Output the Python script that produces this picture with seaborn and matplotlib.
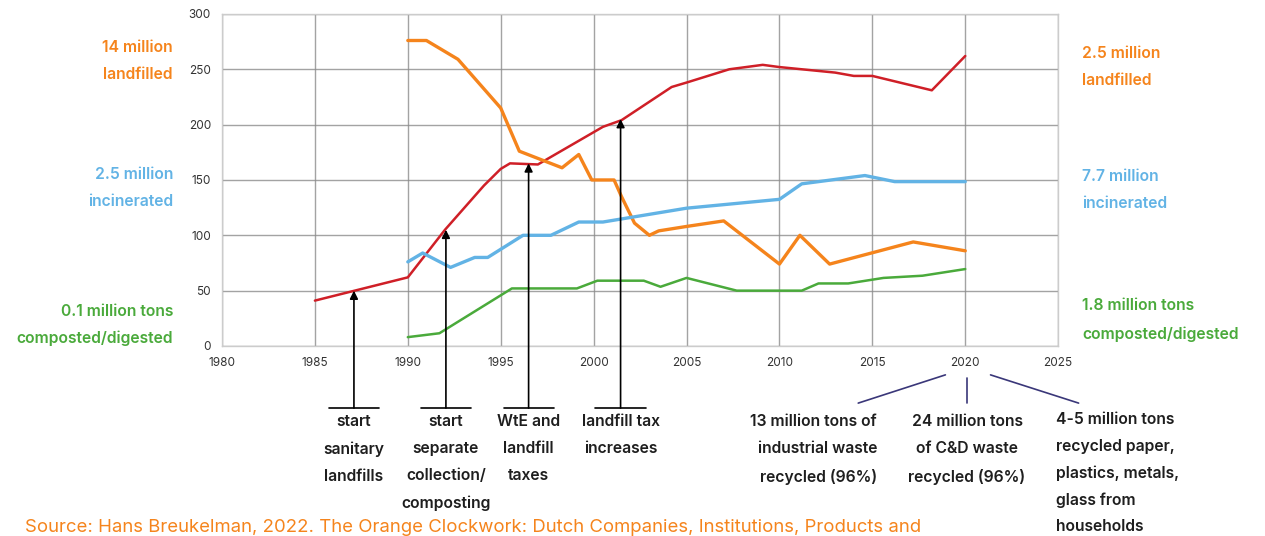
import matplotlib
matplotlib.use("Agg")
import matplotlib.pyplot as plt
import seaborn as sns

# series
red_years = [1985, 1990, 1992, 1994.1, 1995, 1995.5, 1997, 2000.5, 2001.5, 2004.2,
             2005, 2007.3, 2009.1, 2010, 2013, 2014, 2015, 2018.2, 2020]
red_vals = [41, 62, 105, 145, 160, 165, 164, 198, 204, 234,
            238, 250, 254, 252, 247, 244, 244, 231, 262]

orange_years = [1990, 1991, 1992.7, 1995, 1996, 1998.3, 1999.2, 1999.9, 2001.1, 2001.5,
                2002.2, 2003, 2003.5, 2005, 2007, 2010, 2011.1, 2012.7, 2017.2, 2020]
orange_vals = [276, 276, 259, 215, 176, 161, 173, 150, 150, 135,
               111, 100, 104, 108, 113, 74, 100, 74, 94, 86]

blue_years = [1990, 1990.8, 1992.3, 1993.6, 1994.3, 1996.2, 1997.7, 1999.2, 2000.5,
              2005, 2010, 2011.2, 2014.6, 2016.2, 2020]
blue_vals = [76, 84, 71, 80, 80, 100, 100, 112, 112,
             124.5, 132.5, 146.5, 154, 148.5, 148.5]

green_years = [1990, 1991.7, 1995.6, 1999.1, 2000.2, 2002.7, 2003.6, 2005, 2007.7,
               2011.2, 2012.1, 2013.7, 2015.6, 2017.7, 2020]
green_vals = [8, 11.5, 52, 52, 59, 59, 53.5, 61.5, 50,
              50, 56.5, 56.5, 61.5, 63.5, 69.5]

# policy events: year and the value the arrow points at
event_years = [1987.1, 1992.05, 1996.5, 2001.45]
event_vals = [50, 105, 165, 205]
event_labels = ["start\nsanitary\nlandfills",
                "start\nseparate\ncollection/\ncomposting",
                "WtE and\nlandfill\ntaxes",
                "landfill tax\nincreases"]

x_ticks = [1980, 1985, 1990, 1995, 2000, 2005, 2010, 2015, 2020, 2025]
y_ticks = [0, 50, 100, 150, 200, 250, 300]

RED = "#cf1f27"
ORANGE = "#f5841c"
BLUE = "#62b3e5"
GREEN = "#4aaa3b"
NAVY = "#3a3779"
TXT = "#1e1e1e"
FS = 11.3
LS = 2.0

sns.set_style("white")
plt.rcParams["font.family"] = ["Inter", "DejaVu Sans"]

fig = plt.figure(figsize=(12.65, 5.36), dpi=100)
ax = fig.add_axes([0.1755, 0.3545, 0.661, 0.6195])

sns.lineplot(x=red_years, y=red_vals, color=RED, lw=1.8, estimator=None, ax=ax)
sns.lineplot(x=orange_years, y=orange_vals, color=ORANGE, lw=2.4, estimator=None, ax=ax)
sns.lineplot(x=blue_years, y=blue_vals, color=BLUE, lw=2.4, estimator=None, ax=ax)
sns.lineplot(x=green_years, y=green_vals, color=GREEN, lw=1.8, estimator=None, ax=ax)

ax.set_xlim(1980, 2025)
ax.set_ylim(0, 300)
ax.set_xticks(x_ticks)
ax.set_yticks(y_ticks)
ax.tick_params(labelsize=8.5, colors="#333333", length=0, pad=8)
ax.grid(True, color="#8c8c8c", lw=1.0, alpha=0.8)
for s in ax.spines.values():
    s.set_color("#cccccc")
    s.set_linewidth(1.0)
ax.set_xlabel("")
ax.set_ylabel("")

trans = ax.get_xaxis_transform()

# arrows from the bars below the axis up to the line
for yr, val, lab in zip(event_years, event_vals, event_labels):
    ax.annotate("", xy=(yr, val), xycoords="data",
                xytext=(yr, -0.187), textcoords=("data", "axes fraction"),
                arrowprops=dict(arrowstyle="-|>", color="black", lw=1.2,
                                mutation_scale=12, shrinkA=0, shrinkB=0),
                annotation_clip=False)
    ax.plot([yr - 1.35, yr + 1.35], [-0.187, -0.187], color="black", lw=1.2,
            transform=trans, clip_on=False)
    ax.text(yr, -0.206, lab, transform=trans, ha="center", va="top",
            fontsize=FS, fontweight="semibold", color=TXT, linespacing=LS)

# 2020 recycling notes
ax.plot([2018.93, 2014.24], [-0.087, -0.172], color=NAVY, lw=1.2, transform=trans, clip_on=False)
ax.plot([2020.1, 2020.1], [-0.096, -0.172], color=NAVY, lw=1.2, transform=trans, clip_on=False)
ax.plot([2021.36, 2026.1], [-0.087, -0.172], color=NAVY, lw=1.2, transform=trans, clip_on=False)

ax.text(2015.25, -0.206, "13 million tons of\nindustrial waste\nrecycled (96%)", transform=trans,
        ha="right", va="top", multialignment="right", fontsize=FS, fontweight="semibold",
        color=TXT, linespacing=LS)
ax.text(2020.1, -0.206, "24 million tons\nof C&D waste\nrecycled (96%)", transform=trans,
        ha="center", va="top", multialignment="center", fontsize=FS, fontweight="semibold",
        color=TXT, linespacing=LS)
ax.text(2024.9, -0.2, "4-5 million tons\nrecycled paper,\nplastics, metals,\nglass from\nhouseholds",
        transform=trans, ha="left", va="top", multialignment="left", fontsize=FS,
        fontweight="semibold", color=TXT, linespacing=1.93)

# side labels
W, H = 1265, 536
left_labels = [("14 million\nlandfilled", ORANGE, 61),
               ("2.5 million\nincinerated", BLUE, 188),
               ("0.1 million tons\ncomposted/digested", GREEN, 325)]
right_labels = [("2.5 million\nlandfilled", ORANGE, 67),
                ("7.7 million\nincinerated", BLUE, 190),
                ("1.8 million tons\ncomposted/digested", GREEN, 320)]
for txt, col, yp in left_labels:
    fig.text(173 / W, 1 - yp / H, txt, ha="right", va="center", multialignment="right",
             color=col, fontsize=FS, fontweight="semibold", linespacing=LS)
for txt, col, yp in right_labels:
    fig.text(1082 / W, 1 - yp / H, txt, ha="left", va="center", multialignment="left",
             color=col, fontsize=FS, fontweight="semibold", linespacing=LS)

fig.text(25 / W, 1 - 527 / H,
         "Source: Hans Breukelman, 2022. The Orange Clockwork: Dutch Companies, Institutions, Products and",
         ha="left", va="center", color=ORANGE, fontsize=13.35)

fig.savefig("out.png", dpi=100)
